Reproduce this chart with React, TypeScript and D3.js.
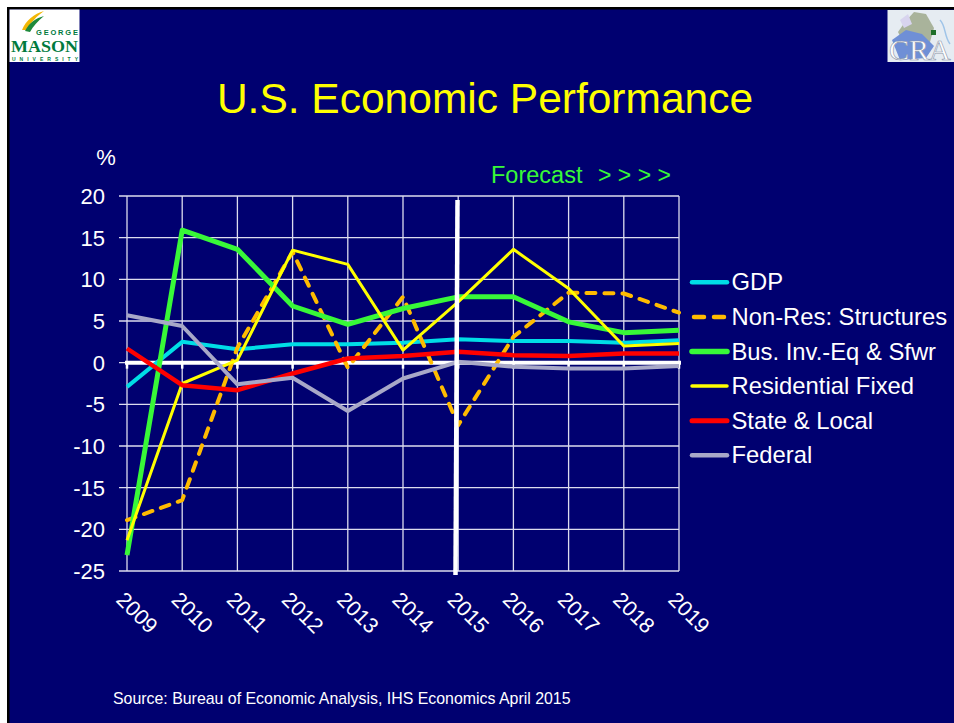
import React from 'react';
import * as d3 from 'd3';

// values (annual % change)
const years = [2009, 2010, 2011, 2012, 2013, 2014, 2015, 2016, 2017, 2018, 2019];
const gdp = [-2.9, 2.5, 1.6, 2.2, 2.2, 2.4, 2.8, 2.6, 2.6, 2.4, 2.7];
const nonResStructures = [-18.9, -16.5, 1.8, 13.3, -0.6, 7.9, -7.5, 3.1, 8.4, 8.3, 6.0];
const busInvEq = [-23.1, 15.9, 13.6, 6.8, 4.6, 6.5, 7.9, 7.9, 4.9, 3.6, 3.9];
const residential = [-21.3, -2.5, 0.3, 13.5, 11.8, 1.5, 7.3, 13.6, 8.9, 2.0, 2.3];
const stateLocal = [1.7, -2.7, -3.3, -1.3, 0.5, 0.8, 1.3, 0.9, 0.8, 1.1, 1.1];
const federal = [5.7, 4.4, -2.6, -1.8, -5.8, -1.9, 0.1, -0.5, -0.7, -0.7, -0.4];
const yTicks = [20, 15, 10, 5, 0, -5, -10, -15, -20, -25];
const seriesNames = ['GDP', 'Non-Res: Structures', 'Bus. Inv.-Eq & Sfwr', 'Residential Fixed', 'State & Local', 'Federal'];

const FONT = '"Liberation Sans", Arial, sans-serif';
const SERIF = '"Liberation Serif", "Times New Roman", serif';
const NAVY = '#000070';

const series = [
  { name: seriesNames[0], values: gdp, color: '#00dde6', width: 4, dash: null },
  { name: seriesNames[1], values: nonResStructures, color: '#ffbb00', width: 4, dash: '9,9' },
  { name: seriesNames[2], values: busInvEq, color: '#38f838', width: 5, dash: null },
  { name: seriesNames[3], values: residential, color: '#ffff00', width: 3, dash: null },
  { name: seriesNames[4], values: stateLocal, color: '#ff0000', width: 4.5, dash: null },
  { name: seriesNames[5], values: federal, color: '#a8a8c8', width: 4, dash: null },
];

const GmuLogo = () => (
  <g>
    <rect x={9.5} y={9.5} width={70} height={52.5} fill="#ffffff" />
    <path d="M22,30 C26,20 34,14 44,11 C37,16 31,22 27,30 Z" fill="#f2b705" />
    <path d="M25,31 C29,23 36,18 44,16 C38,21 33,26 30,32 Z" fill="#1f8a3c" />
    <text x={36} y={35} fontFamily={FONT} fontWeight="bold" fontSize={7.5} fill="#007a3d" textLength={42} lengthAdjust="spacing">GEORGE</text>
    <text x={11} y={51.5} fontFamily={SERIF} fontWeight="bold" fontSize={16.5} fill="#007a3d" textLength={67} lengthAdjust="spacingAndGlyphs">MASON</text>
    <text x={12} y={60.5} fontFamily={FONT} fontWeight="bold" fontSize={5} fill="#007a3d" textLength={66} lengthAdjust="spacing">UNIVERSITY</text>
  </g>
);

const CraLogo = () => (
  <g>
    <rect x={887.5} y={10} width={66.5} height={52} fill="#e6ecf2" />
    <path d="M905,22 L914,12 L926,14 L934,28 L930,42 L918,48 L904,44 L898,32 Z" fill="#a9b39b" />
    <path d="M892,40 L906,30 L922,34 L934,46 L926,58 L900,60 Z" fill="#6f8fd6" />
    <path d="M900,20 L908,14 L912,24 L904,28 Z" fill="#d8d4ee" />
    <rect x={931} y={30} width={5} height={5} fill="#1f6f2a" />
    <path d="M940,20 C946,26 944,36 950,44" stroke="#9fc4e8" strokeWidth={1.5} fill="none" />
    <text x={889} y={60} fontFamily={SERIF} fontSize={30} fill="#ffffff" stroke="#8a94a8" strokeWidth={0.6}>CRA</text>
  </g>
);

export default function App() {
  const x = d3.scaleLinear().domain([2009, 2019]).range([127, 679]);
  const y = d3.scaleLinear().domain([-25, 20]).range([571, 196]);
  const line = d3.line<number>()
    .x((_, i) => x(years[i]))
    .y(d => y(d));

  const gridColor = '#dcdcee';
  const legendX0 = 692;
  const legendX1 = 727;
  const legendY0 = 282.3;
  const legendStep = 34.6;

  return (
    <svg width={954} height={723} style={{ position: 'absolute', left: 0, top: 0 }}>
      <rect x={0} y={0} width={954} height={723} fill="#ffffff" />
      <rect x={7} y={7} width={947} height={716} fill="#000000" />
      <rect x={9.5} y={9.5} width={944.5} height={713.5} fill={NAVY} />

      <GmuLogo />
      <CraLogo />

      <text x={485} y={113} textAnchor="middle" fontFamily={FONT} fontSize={42.5} fill="#ffff00">U.S. Economic Performance</text>

      <text x={106} y={165} textAnchor="middle" fontFamily={FONT} fontSize={22} fill="#ffffff">%</text>
      <text x={491} y={183} fontFamily={FONT} fontSize={23.5} fill="#38f838">Forecast</text>
      <text x={598} y={183} fontFamily={FONT} fontSize={23} fill="#38f838">{'> > > >'}</text>

      {/* horizontal grid */}
      {yTicks.map(t => (
        <line key={`h${t}`} x1={119} x2={x(2019)} y1={y(t)} y2={y(t)} stroke={gridColor} strokeWidth={1.3} />
      ))}
      {/* vertical grid */}
      {years.map(yr => (
        <line key={`v${yr}`} x1={x(yr)} x2={x(yr)} y1={y(20)} y2={y(-25)} stroke={gridColor} strokeWidth={1.3} />
      ))}
      {/* zero axis with ticks */}
      <line x1={x(2009) - 2} x2={x(2019) + 2} y1={y(0)} y2={y(0)} stroke="#ffffff" strokeWidth={4} />
      {years.map(yr => (
        <line key={`t${yr}`} x1={x(yr)} x2={x(yr)} y1={y(0)} y2={y(0) + 6} stroke="#ffffff" strokeWidth={2.5} />
      ))}

      {yTicks.map(t => (
        <text key={`yl${t}`} x={105} y={y(t) + 8} textAnchor="end" fontFamily={FONT} fontSize={22} fill="#ffffff">{t}</text>
      ))}
      {years.map(yr => (
        <text key={`xl${yr}`} x={x(yr) - 12} y={601} transform={`rotate(45 ${x(yr) - 12} 601)`} fontFamily={FONT} fontSize={21.5} fill="#ffffff">{yr}</text>
      ))}

      {series.map(s => (
        <path key={s.name} d={line(s.values) || ''} fill="none" stroke={s.color} strokeWidth={s.width}
          strokeDasharray={s.dash || undefined} strokeLinecap={s.dash ? 'round' : 'butt'} strokeLinejoin="round" />
      ))}

      {/* forecast divider */}
      <line x1={457.5} x2={455.5} y1={200} y2={575} stroke="#ffffff" strokeWidth={4.5} />

      {series.map((s, i) => {
        const ly = legendY0 + i * legendStep;
        return (
          <g key={`lg${s.name}`}>
            {s.dash ? (
              <line x1={legendX0 + 2} x2={legendX1 - 2} y1={ly} y2={ly} stroke={s.color} strokeWidth={4.5}
                strokeDasharray="10,10" strokeLinecap="round" />
            ) : (
              <line x1={legendX0} x2={legendX1} y1={ly} y2={ly} stroke={s.color} strokeWidth={s.width + 0.5} strokeLinecap="round" />
            )}
            <text x={731.5} y={ly + 8} fontFamily={FONT} fontSize={23.8} fill="#ffffff">{s.name}</text>
          </g>
        );
      })}

      <text x={113} y={703.5} fontFamily={FONT} fontSize={15.9} fill="#ffffff">Source: Bureau of Economic Analysis, IHS Economics April 2015</text>
    </svg>
  );
}
